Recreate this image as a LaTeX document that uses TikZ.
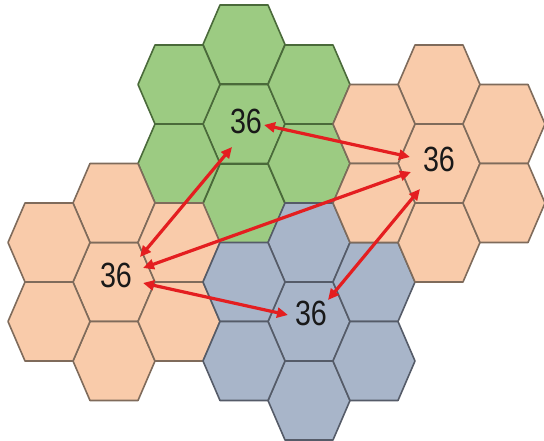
\documentclass[tikz,border=0pt]{standalone}
\usepackage{fontspec}
\newfontfamily\numfont[FakeStretch=0.82]{Liberation Sans}
\usetikzlibrary{arrows.meta}
\definecolor{gfill}{HTML}{9CCB82}
\definecolor{gline}{HTML}{4A6A3A}
\definecolor{ofill}{HTML}{F9CBAA}
\definecolor{oline}{HTML}{7F6B5B}
\definecolor{bfill}{HTML}{A8B5C9}
\definecolor{bline}{HTML}{555B68}
\definecolor{arr}{HTML}{E41E20}
\tikzset{
  hexg/.style={fill=gfill,draw=gline,line width=1.6pt,line join=round},
  hexo/.style={fill=ofill,draw=oline,line width=1.6pt,line join=round},
  hexb/.style={fill=bfill,draw=bline,line width=1.6pt,line join=round},
  num/.style={font=\numfont\fontsize{35}{35}\selectfont,text=black!90,inner sep=0pt},
  link/.style={draw=arr,line width=3.2pt,{Triangle[length=11pt,width=10pt]}-{Triangle[length=11pt,width=10pt]}}
}
\newcommand{\hexat}[3]{%
  \path[#3] (#1-41,#2) -- (#1-24,#2-39.5) -- (#1+24,#2-39.5) -- (#1+41,#2) -- (#1+24,#2+39.5) -- (#1-24,#2+39.5) -- cycle;}
\begin{document}
\begin{tikzpicture}[x=1pt,y=-1pt]
\useasboundingbox (0,0) rectangle (544,441);
% green cluster
\foreach \cx/\cy in {244/124,244/44.5,244/203.5,179/84.5,179/163.5,309/84.5,309/163.5}
  {\hexat{\cx}{\cy}{hexg}}
% left orange cluster
\foreach \cx/\cy in {114/282,114/203,114/361,49/242.5,49/321.5,179/242.5,179/321.5}
  {\hexat{\cx}{\cy}{hexo}}
% blue cluster
\foreach \cx/\cy in {309/321.5,309/242.5,309/400.5,244/282,244/361,374/282,374/361}
  {\hexat{\cx}{\cy}{hexb}}
% right orange cluster
\foreach \cx/\cy in {439/163.5,439/84.5,439/242.5,374/124,374/203,504/124,504/203}
  {\hexat{\cx}{\cy}{hexo}}
% labels
\node[num] (g) at (246,121) {36};
\node[num] (ro) at (439,159.5) {36};
\node[num] (lo) at (116,275) {36};
\node[num] (b) at (311,313.5) {36};
% arrow end points
\coordinate (g1) at (264,125);
\coordinate (g2) at (232,147);
\coordinate (r1) at (410,157);
\coordinate (r2) at (411,172);
\coordinate (r3) at (420,189);
\coordinate (l1) at (140,257);
\coordinate (l2) at (143,268);
\coordinate (l3) at (143,283);
\coordinate (b1) at (288,315);
\coordinate (b2) at (328,300);
\draw[link] (g1) -- (r1);
\draw[link] (g2) -- (l1);
\draw[link] (r2) -- (l2);
\draw[link] (l3) -- (b1);
\draw[link] (r3) -- (b2);
\end{tikzpicture}
\end{document}
